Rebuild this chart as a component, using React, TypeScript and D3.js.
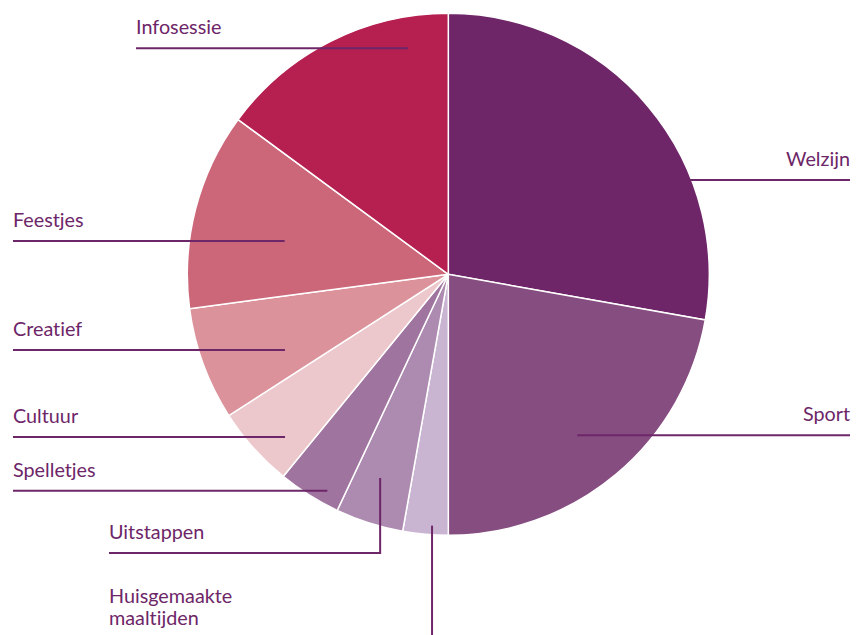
import React from "react";
import * as d3 from "d3";

const categories = ["Welzijn", "Sport", "Huisgemaakte maaltijden", "Uitstappen", "Spelletjes", "Cultuur", "Creatief", "Feestjes", "Infosessie"];
const values = [27.8, 22.2, 2.8, 4.2, 3.9, 5.0, 7.0, 12.2, 14.9];
const colors = ["#6e2668", "#864d80", "#c9b4d1", "#ad8ab0", "#9f749f", "#ecc8cc", "#db929b", "#cc6779", "#b52050"];

// label layout: anchor in polar coords (deg from 12 o'clock, radius fraction), end x of leader
const labelLayout = [
  { angle: 53.3, r: 0.605, endX: 850, align: "end" },
  { angle: 141.3, r: 0.79, endX: 850, align: "end" },
  { angle: 183.7, r: 0.965, endX: null, align: "start", elbowY: 640, textX: 109, textY: 603 },
  { angle: 198.5, r: 0.823, endX: 109, align: "start", elbowY: 553 },
  { angle: 209.2, r: 0.95, endX: 13, align: "start" },
  { angle: 225.1, r: 0.883, endX: 13, align: "start" },
  { angle: 245.1, r: 0.69, endX: 13, align: "start" },
  { angle: 281.5, r: 0.64, endX: 13, align: "start" },
  { angle: 349.9, r: 0.88, endX: 136, align: "start" },
];

const W = 863;
const H = 635;
const cx = 448.3;
const cy = 274.3;
const R = 261;
const ink = "#6d2668";

export default function App() {
  React.useEffect(() => {
    document.body.style.margin = "0";
  }, []);
  const pie = d3.pie<number>().sort(null).value((d) => d);
  const arcs = pie(values);
  const arc = d3.arc<d3.PieArcDatum<number>>().innerRadius(0).outerRadius(R);

  return (
    <svg width={W} height={H} style={{ display: "block", background: "#fff" }}>
      <g transform={`translate(${cx},${cy})`}>
        {arcs.map((a, i) => (
          <path key={i} d={arc(a) || ""} fill={colors[i]} stroke="#fff" strokeWidth={1.5} />
        ))}
      </g>
      {labelLayout.map((l, i) => {
        const th = (l.angle * Math.PI) / 180;
        const ax = cx + Math.sin(th) * l.r * R;
        const ay = cy - Math.cos(th) * l.r * R;
        const font = {
          fontFamily: "Lato, 'Noto Sans', sans-serif",
          fontSize: 19.8,
          fill: ink,
          style: { fontVariantLigatures: "none" as const },
        };
        if (l.elbowY !== undefined && l.endX === null) {
          const lines = categories[i].split(" ");
          return (
            <g key={i}>
              <path d={`M${ax},${ay}V${l.elbowY}`} stroke={ink} strokeWidth={2} fill="none" />
              {lines.map((t, k) => (
                <text key={k} x={l.textX} y={(l.textY as number) + k * 22} {...font}>{t}</text>
              ))}
            </g>
          );
        }
        const lineY = l.elbowY !== undefined ? l.elbowY : ay;
        const d = l.elbowY !== undefined ? `M${ax},${ay}V${lineY}H${l.endX}` : `M${ax},${ay}H${l.endX}`;
        return (
          <g key={i}>
            <path d={d} stroke={ink} strokeWidth={2} fill="none" />
            <text x={l.endX as number} y={lineY - 14} textAnchor={l.align} {...font}>{categories[i]}</text>
          </g>
        );
      })}
    </svg>
  );
}
